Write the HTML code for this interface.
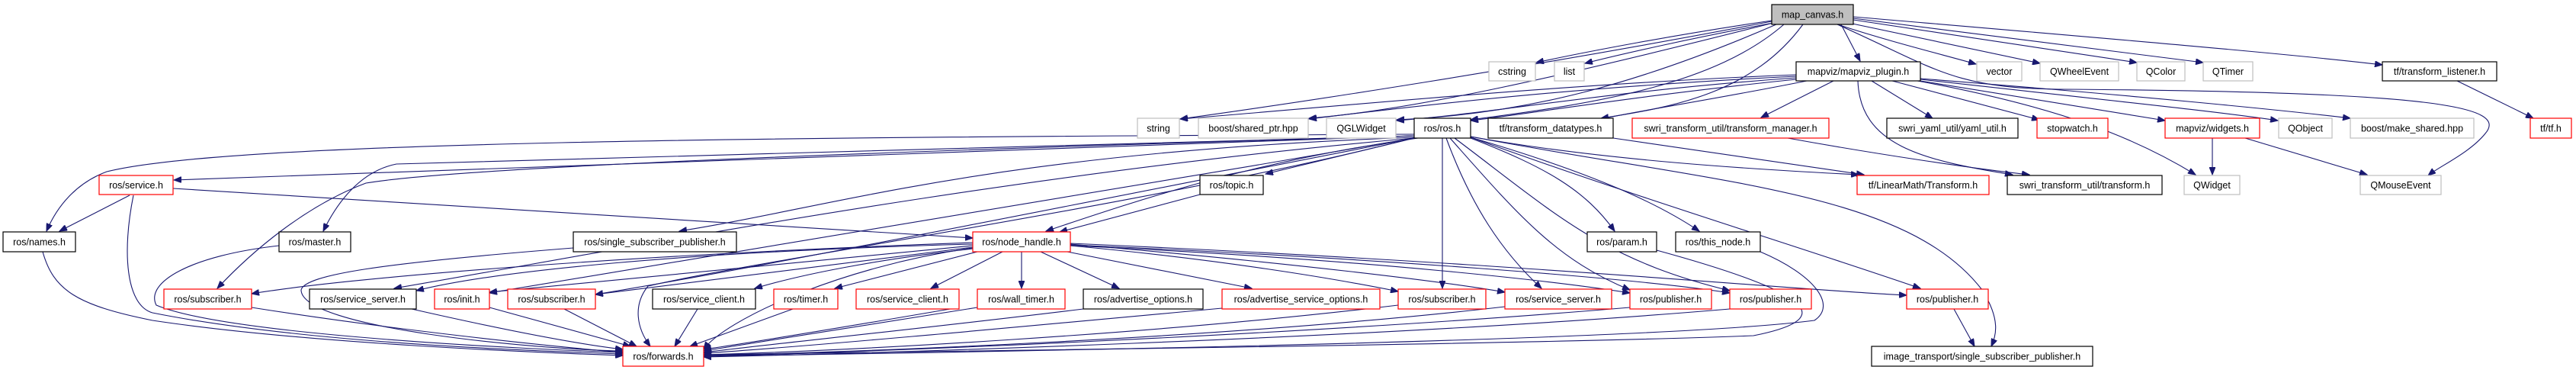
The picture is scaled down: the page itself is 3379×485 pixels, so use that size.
<!DOCTYPE html>
<html><head><meta charset="utf-8"><style>
html,body{margin:0;padding:0;background:#fff;}
svg{display:block;}
text{font-family:"Liberation Sans",sans-serif;font-size:12.5px;fill:#000;text-anchor:middle;}
.e{fill:none;stroke:#191970;stroke-width:1.1;marker-end:url(#a);}
.k{fill:#fff;stroke:#000;stroke-width:1.2;}
.r{fill:#fff;stroke:#ff0000;stroke-width:1.2;}
.g{fill:#fff;stroke:#bfbfbf;stroke-width:1.2;}
</style></head><body>
<svg width="3379" height="485" viewBox="0 0 3379 485" xmlns="http://www.w3.org/2000/svg">
<defs><marker id="a" markerUnits="userSpaceOnUse" markerWidth="11" markerHeight="8" refX="10" refY="4" orient="auto"><path d="M0,0 L10,4 L0,8 z" fill="#191970" stroke="#191970"/></marker></defs>
<g>
<!-- map_canvas edges -->
<path class="e" d="M2324,27 C2200,45 2080,68 2015,82"/>
<path class="e" d="M2326,30 C2220,50 2130,70 2079,83"/>
<path class="e" d="M2415,32 L2440,80"/>
<path class="e" d="M2410,32 C2480,55 2550,72 2592,84"/>
<path class="e" d="M2425,30 L2676,83"/>
<path class="e" d="M2431,26 L2803,82"/>
<path class="e" d="M2431,24 L2890,82"/>
<path class="e" d="M2431,22 C2700,45 3000,70 3125,85"/>
<path class="e" d="M2324,28 C2000,90 1700,135 1548,156"/>
<path class="e" d="M2326,30 C2050,100 1850,145 1717,155"/>
<path class="e" d="M2330,32 C2150,110 2000,150 1832,157"/>
<path class="e" d="M2340,32 C2250,110 2100,135 1929,157"/>
<path class="e" d="M2365,32 C2300,120 2200,140 2100,155"/>
<path class="e" d="M2410,32 C2540,90 2560,115 2700,117 C3200,120 3290,140 3260,175 C3240,200 3200,218 3185,230"/>
<!-- plugin edges -->
<path class="e" d="M2356,98 C2050,110 1750,140 1548,156"/>
<path class="e" d="M2356,100 C2050,115 1850,140 1717,156"/>
<path class="e" d="M2356,102 C2100,120 1950,150 1832,158"/>
<path class="e" d="M2356,104 C2150,125 2000,150 1929,158"/>
<path class="e" d="M2370,106 C2250,130 2150,145 2100,156"/>
<path class="e" d="M2405,106 L2310,154"/>
<path class="e" d="M2455,106 L2535,155"/>
<path class="e" d="M2482,106 L2675,157"/>
<path class="e" d="M2519,106 L2840,158"/>
<path class="e" d="M2519,104 C2750,130 2900,145 2988,158"/>
<path class="e" d="M2519,103 C2800,125 3000,145 3083,155"/>
<path class="e" d="M2515,106 C2700,140 2800,180 2880,229"/>
<path class="e" d="M2437,106 C2440,190 2520,210 2640,229"/>
<path class="e" d="M2902,181 L2902,229"/>
<path class="e" d="M2945,181 L3105,229"/>
<path class="e" d="M2345,181 C2450,200 2580,220 2662,229"/>
<path class="e" d="M2116,181 C2250,200 2380,220 2445,229"/>
<path class="e" d="M3223,106 L3323,155"/>
<!-- ros.h edges -->
<path class="e" d="M1855,178 C1200,200 600,220 228,236"/>
<path class="e" d="M1855,176 C1000,180 300,185 140,225 C100,240 75,270 61,303"/>
<path class="e" d="M1855,178 C1200,200 600,210 520,215 C470,225 440,270 424,303"/>
<path class="e" d="M1855,178 C1100,200 600,220 480,240 C400,270 330,330 285,378"/>
<path class="e" d="M1855,180 C1300,200 1100,270 891,303"/>
<path class="e" d="M1855,181 L1660,228"/>
<path class="e" d="M1860,181 C1650,210 1500,260 1372,303"/>
<path class="e" d="M1855,181 C1300,230 800,330 517,378"/>
<path class="e" d="M1855,181 C1400,260 900,340 642,384"/>
<path class="e" d="M1855,181 C1400,270 1000,350 781,386"/>
<path class="e" d="M1855,181 C1500,270 1000,340 850,375 C830,400 835,430 853,454"/>
<path class="e" d="M1892,181 L1892,378"/>
<path class="e" d="M1897,181 C1930,270 1970,330 2022,378"/>
<path class="e" d="M1902,181 C1990,280 2040,340 2138,380"/>
<path class="e" d="M1908,181 C2040,280 2100,340 2269,381"/>
<path class="e" d="M1929,181 C2030,220 2080,250 2118,303"/>
<path class="e" d="M1929,180 C2100,230 2180,270 2229,303"/>
<path class="e" d="M1929,180 C2150,260 2350,320 2519,378"/>
<path class="e" d="M1929,179 C2250,240 2500,250 2600,380 C2625,420 2618,440 2612,454"/>
<path class="e" d="M1929,179 C2100,210 2300,222 2438,229"/>
<!-- misc -->
<path class="e" d="M1574,255 L1390,304"/>
<path class="e" d="M170,256 L78,303"/>
<path class="e" d="M175,256 C160,330 165,400 200,410 C400,450 700,460 817,464"/>
<path class="e" d="M227,247 L1276,312"/>
<path class="e" d="M56,330 C70,380 100,400 200,420 C400,450 700,462 817,466"/>
<path class="e" d="M366,322 C250,335 190,370 205,400 C300,440 700,458 817,462"/>
<path class="e" d="M752,325 C500,345 400,360 395,380 C395,430 700,458 817,460"/>
<path class="e" d="M2173,328 C2400,390 2400,420 2300,440 C2000,452 1100,462 923,465"/>
<path class="e" d="M2309,330 C2380,360 2410,400 2380,420 C2150,450 1100,464 923,467"/>
<!-- node_handle edges -->
<path class="e" d="M1276,320 C900,330 650,355 546,381"/>
<path class="e" d="M1276,322 L642,383"/>
<path class="e" d="M1276,318 C800,335 450,365 330,385"/>
<path class="e" d="M1276,324 L781,386"/>
<path class="e" d="M1276,326 C1150,340 1050,360 990,378"/>
<path class="e" d="M1282,330 L1095,378"/>
<path class="e" d="M1315,330 L1221,378"/>
<path class="e" d="M1340,330 L1340,378"/>
<path class="e" d="M1365,330 L1468,378"/>
<path class="e" d="M1400,330 L1642,378"/>
<path class="e" d="M1404,322 C1600,340 1750,365 1834,382"/>
<path class="e" d="M1404,320 C1700,345 1900,370 1974,383"/>
<path class="e" d="M1404,322 C1800,340 2050,370 2138,384"/>
<path class="e" d="M1404,321 C1800,338 2150,365 2269,384"/>
<path class="e" d="M1404,319 C2000,345 2350,380 2501,387"/>
<path class="e" d="M1276,325 C1100,350 950,420 923,458"/>
<!-- row5 to forwards -->
<path class="e" d="M330,403 C500,430 700,452 817,462"/>
<path class="e" d="M540,405 C650,430 750,450 817,458"/>
<path class="e" d="M642,403 L827,454"/>
<path class="e" d="M740,405 L835,454"/>
<path class="e" d="M915,405 L885,454"/>
<path class="e" d="M1040,405 L905,454"/>
<path class="e" d="M1258,403 C1100,430 980,450 923,458"/>
<path class="e" d="M1282,403 C1100,432 980,450 923,460"/>
<path class="e" d="M1421,405 C1200,432 1000,452 923,462"/>
<path class="e" d="M1603,404 C1300,432 1050,455 923,463"/>
<path class="e" d="M1834,400 C1500,440 1100,460 923,465"/>
<path class="e" d="M1974,402 C1600,445 1100,462 923,466"/>
<path class="e" d="M2138,403 C1700,440 1100,463 923,467"/>
<path class="e" d="M2269,405 C1800,445 1100,464 923,468"/>
<path class="e" d="M2563,405 L2590,454"/>
</g>
<!-- nodes -->
<rect x="2324" y="6" width="107" height="26" fill="#bfbfbf" stroke="#000" stroke-width="1.2"/><text x="2377.5" y="23.5">map_canvas.h</text>

<rect class="g" x="1953" y="81" width="61" height="25"/><text x="1983.5" y="98">cstring</text>
<rect class="g" x="2039" y="81" width="39" height="25"/><text x="2058.5" y="98">list</text>
<rect class="k" x="2356" y="81" width="163" height="25"/><text x="2437.5" y="98">mapviz/mapviz_plugin.h</text>
<rect class="g" x="2593" y="81" width="59" height="25"/><text x="2622.5" y="98">vector</text>
<rect class="g" x="2676" y="81" width="103" height="25"/><text x="2727.5" y="98">QWheelEvent</text>
<rect class="g" x="2803" y="81" width="63" height="25"/><text x="2834.5" y="98">QColor</text>
<rect class="g" x="2890" y="81" width="65" height="25"/><text x="2922.5" y="98">QTimer</text>
<rect class="k" x="3125" y="81" width="150" height="25"/><text x="3200" y="98">tf/transform_listener.h</text>

<rect class="g" x="1492" y="155" width="55" height="26"/><text x="1519.5" y="172.5">string</text>
<rect class="g" x="1572" y="155" width="144" height="26"/><text x="1644" y="172.5">boost/shared_ptr.hpp</text>
<rect class="g" x="1740" y="155" width="91" height="26"/><text x="1785.5" y="172.5">QGLWidget</text>
<rect class="k" x="1855" y="155" width="74" height="26"/><text x="1892" y="172.5">ros/ros.h</text>
<rect class="k" x="1952" y="155" width="164" height="26"/><text x="2034" y="172.5">tf/transform_datatypes.h</text>
<rect class="r" x="2141" y="155" width="258" height="26"/><text x="2270" y="172.5">swri_transform_util/transform_manager.h</text>
<rect class="k" x="2475" y="155" width="172" height="26"/><text x="2561" y="172.5">swri_yaml_util/yaml_util.h</text>
<rect class="r" x="2672" y="155" width="93" height="26"/><text x="2718.5" y="172.5">stopwatch.h</text>
<rect class="r" x="2840" y="155" width="124" height="26"/><text x="2902" y="172.5">mapviz/widgets.h</text>
<rect class="g" x="2989" y="155" width="70" height="26"/><text x="3024" y="172.5">QObject</text>
<rect class="g" x="3083" y="155" width="162" height="26"/><text x="3164" y="172.5">boost/make_shared.hpp</text>
<rect class="r" x="3319" y="155" width="54" height="26"/><text x="3346" y="172.5">tf/tf.h</text>

<rect class="r" x="130" y="230" width="97" height="25"/><text x="178.5" y="247">ros/service.h</text>
<rect class="k" x="1574" y="230" width="83" height="25"/><text x="1615.5" y="247">ros/topic.h</text>
<rect class="r" x="2436" y="230" width="173" height="25"/><text x="2522.5" y="247">tf/LinearMath/Transform.h</text>
<rect class="k" x="2633" y="230" width="203" height="25"/><text x="2734.5" y="247">swri_transform_util/transform.h</text>
<rect class="g" x="2865" y="230" width="73" height="25"/><text x="2901.5" y="247">QWidget</text>
<rect class="g" x="3096" y="230" width="106" height="25"/><text x="3149" y="247">QMouseEvent</text>

<rect class="k" x="4" y="304" width="95" height="26"/><text x="51.5" y="321.5">ros/names.h</text>
<rect class="k" x="366" y="304" width="94" height="26"/><text x="413" y="321.5">ros/master.h</text>
<rect class="k" x="752" y="304" width="214" height="26"/><text x="859" y="321.5">ros/single_subscriber_publisher.h</text>
<rect class="r" x="1276" y="304" width="128" height="26"/><text x="1340" y="321.5">ros/node_handle.h</text>
<rect class="k" x="2082" y="304" width="91" height="26"/><text x="2127.5" y="321.5">ros/param.h</text>
<rect class="k" x="2198" y="304" width="111" height="26"/><text x="2253.5" y="321.5">ros/this_node.h</text>

<rect class="r" x="215" y="379" width="115" height="26"/><text x="272.5" y="396.5">ros/subscriber.h</text>
<rect class="k" x="406" y="379" width="140" height="26"/><text x="476" y="396.5">ros/service_server.h</text>
<rect class="r" x="570" y="379" width="72" height="26"/><text x="606" y="396.5">ros/init.h</text>
<rect class="r" x="666" y="379" width="115" height="26"/><text x="723.5" y="396.5">ros/subscriber.h</text>
<rect class="k" x="856" y="379" width="135" height="26"/><text x="923.5" y="396.5">ros/service_client.h</text>
<rect class="r" x="1015" y="379" width="84" height="26"/><text x="1057" y="396.5">ros/timer.h</text>
<rect class="r" x="1123" y="379" width="135" height="26"/><text x="1190.5" y="396.5">ros/service_client.h</text>
<rect class="r" x="1282" y="379" width="115" height="26"/><text x="1339.5" y="396.5">ros/wall_timer.h</text>
<rect class="k" x="1421" y="379" width="157" height="26"/><text x="1499.5" y="396.5">ros/advertise_options.h</text>
<rect class="r" x="1603" y="379" width="207" height="26"/><text x="1706.5" y="396.5">ros/advertise_service_options.h</text>
<rect class="r" x="1834" y="379" width="115" height="26"/><text x="1891.5" y="396.5">ros/subscriber.h</text>
<rect class="r" x="1974" y="379" width="140" height="26"/><text x="2044" y="396.5">ros/service_server.h</text>
<rect class="r" x="2138" y="379" width="107" height="26"/><text x="2191.5" y="396.5">ros/publisher.h</text>
<rect class="r" x="2269" y="379" width="107" height="26"/><text x="2322.5" y="396.5">ros/publisher.h</text>
<rect class="r" x="2501" y="379" width="107" height="26"/><text x="2554.5" y="396.5">ros/publisher.h</text>

<rect class="r" x="817" y="454" width="106" height="26"/><text x="870" y="471.5">ros/forwards.h</text>
<rect class="k" x="2455" y="454" width="290" height="26"/><text x="2600" y="471.5">image_transport/single_subscriber_publisher.h</text>
</svg>
</body></html>
